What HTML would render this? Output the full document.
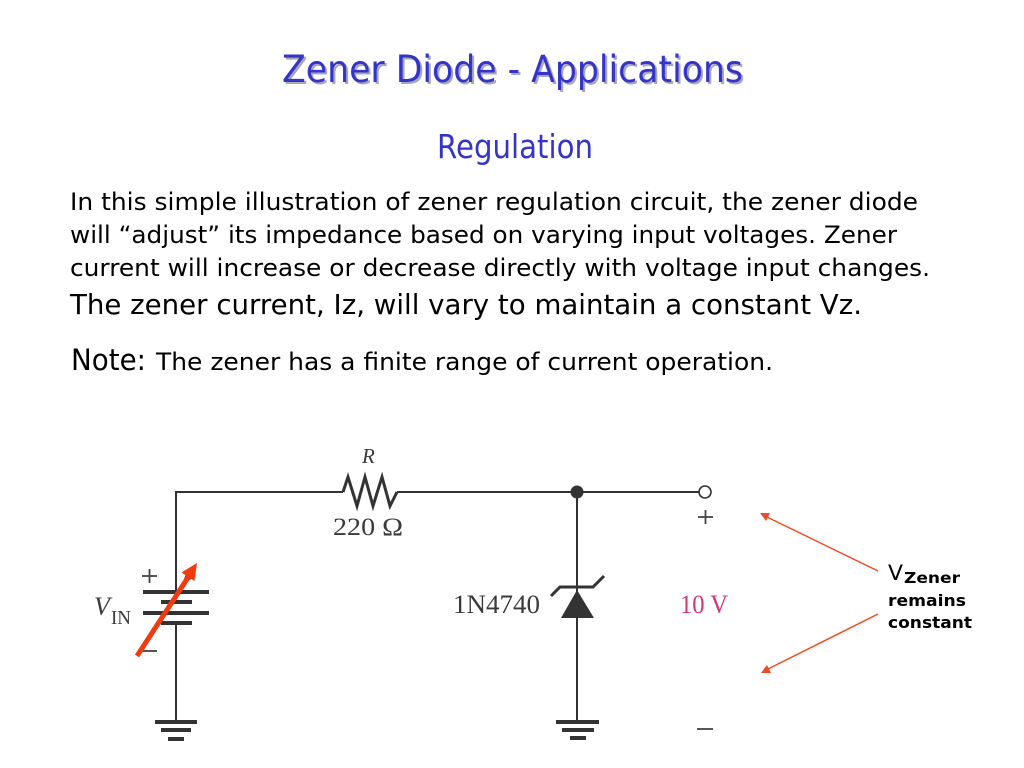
<!DOCTYPE html>
<html><head><meta charset="utf-8"><style>
html,body{margin:0;padding:0;background:#fff;}
svg{display:block;}
</style></head><body>
<svg width="1024" height="768" viewBox="0 0 1024 768" xmlns="http://www.w3.org/2000/svg">
<rect width="1024" height="768" fill="#fff"/>
<!-- Title -->
<text x="284" y="84" font-family="DejaVu Sans, sans-serif" font-size="37" fill="#a8a8b8" textLength="461" lengthAdjust="spacingAndGlyphs">Zener Diode - Applications</text>
<text x="282" y="82" font-family="DejaVu Sans, sans-serif" font-size="37" fill="#3434c8" textLength="461" lengthAdjust="spacingAndGlyphs">Zener Diode - Applications</text>
<text x="437" y="158" font-family="DejaVu Sans, sans-serif" font-size="33" fill="#3434c8" textLength="156" lengthAdjust="spacingAndGlyphs">Regulation</text>

<!-- Body -->
<g font-family="DejaVu Sans, sans-serif" fill="#000">
<text x="70" y="210" font-size="24" textLength="848" lengthAdjust="spacingAndGlyphs">In this simple illustration of zener regulation circuit, the zener diode</text>
<text x="70" y="243" font-size="24" textLength="827" lengthAdjust="spacingAndGlyphs">will “adjust” its impedance based on varying input voltages. Zener</text>
<text x="70" y="276" font-size="24" textLength="860" lengthAdjust="spacingAndGlyphs">current will increase or decrease directly with voltage input changes.</text>
<text x="70" y="314" font-size="28" textLength="792" lengthAdjust="spacingAndGlyphs">The zener current, Iz, will vary to maintain a constant Vz.</text>
<text x="71" y="370" font-size="29" textLength="75" lengthAdjust="spacingAndGlyphs">Note:</text>
<text x="156" y="370" font-size="24" textLength="617" lengthAdjust="spacingAndGlyphs">The zener has a finite range of current operation.</text>
</g>

<!-- Circuit wires -->
<g stroke="#333" stroke-width="2" fill="none">
<polyline points="176,592 176,492 343,492"/>
<line x1="397" y1="492" x2="699" y2="492"/>
<line x1="176" y1="623" x2="176" y2="722"/>
<line x1="577" y1="492" x2="577" y2="722"/>
<polyline stroke-width="3" stroke-linejoin="miter" points="343,492 348,477 357,506 365,477 373,506 382,477 390,506 397,492"/>
<circle cx="705" cy="492" r="6" stroke-width="1.6" fill="#fff"/>
<polyline stroke-width="3" points="551,596 560,587 593,587 604,576"/>
</g>
<circle cx="577" cy="492" r="6.5" fill="#333"/>
<polygon points="577,590 561,618 594,618" fill="#333"/>

<!-- battery plates -->
<g fill="#333">
<rect x="143" y="590" width="66" height="4"/>
<rect x="161" y="600" width="31" height="4"/>
<rect x="143" y="611" width="66" height="4"/>
<rect x="161" y="621" width="31" height="4"/>
<!-- grounds -->
<rect x="155" y="720" width="42" height="4"/>
<rect x="161" y="728" width="30" height="4"/>
<rect x="168" y="737" width="16" height="4"/>
<rect x="556" y="720" width="43" height="4"/>
<rect x="562" y="728" width="32" height="4"/>
<rect x="570" y="736" width="16" height="4"/>
</g>

<!-- battery signs -->
<g stroke="#444" stroke-width="1.8">
<line x1="142" y1="576" x2="157" y2="576"/>
<line x1="149.5" y1="569" x2="149.5" y2="583"/>
<line x1="141" y1="651" x2="157" y2="651"/>
<line x1="698" y1="517" x2="713" y2="517"/>
<line x1="705.5" y1="510" x2="705.5" y2="524"/>
<line x1="697" y1="729" x2="713" y2="729"/>
</g>

<!-- small black arrowhead under red arrow -->
<polygon points="182,584 186,574 193,578" fill="#333"/>
<!-- red variable arrow -->
<line x1="137" y1="656" x2="189" y2="576" stroke="#f03a10" stroke-width="5"/>
<polygon points="197,563 194.5,581 181.5,572.5" fill="#f03a10"/>

<!-- circuit labels -->
<g font-family="Liberation Serif, serif" fill="#3a3a3a">
<text x="362" y="463" font-size="21" font-style="italic">R</text>
<text x="333" y="535" font-size="25" textLength="70" lengthAdjust="spacingAndGlyphs">220 Ω</text>
<text x="94" y="615" font-size="26" font-style="italic">V</text>
<text x="111" y="624" font-size="20" textLength="20" lengthAdjust="spacingAndGlyphs">IN</text>
<text x="453" y="613" font-size="26" textLength="87" lengthAdjust="spacingAndGlyphs">1N4740</text>
<text x="680" y="613" font-size="26" fill="#d8327c" textLength="48" lengthAdjust="spacingAndGlyphs">10 V</text>
</g>

<!-- right red arrows -->
<g stroke="#f04a24" stroke-width="1.5">
<line x1="878" y1="571" x2="767" y2="517"/>
<line x1="878" y1="614" x2="768" y2="669"/>
</g>
<polygon points="760,513 770,513 766,521" fill="#f04a24"/>
<polygon points="761,673 771,673 767,665" fill="#f04a24"/>

<!-- VZener label -->
<g font-family="DejaVu Sans, sans-serif" fill="#000">
<text x="888" y="580" font-size="21" textLength="15" lengthAdjust="spacingAndGlyphs">V</text>
<text x="904" y="583" font-size="15" font-weight="bold" textLength="56" lengthAdjust="spacingAndGlyphs">Zener</text>
<text x="888" y="606" font-size="16" font-weight="bold" textLength="78" lengthAdjust="spacingAndGlyphs">remains</text>
<text x="888" y="628" font-size="16" font-weight="bold" textLength="84" lengthAdjust="spacingAndGlyphs">constant</text>
</g>
</svg>
</body></html>
